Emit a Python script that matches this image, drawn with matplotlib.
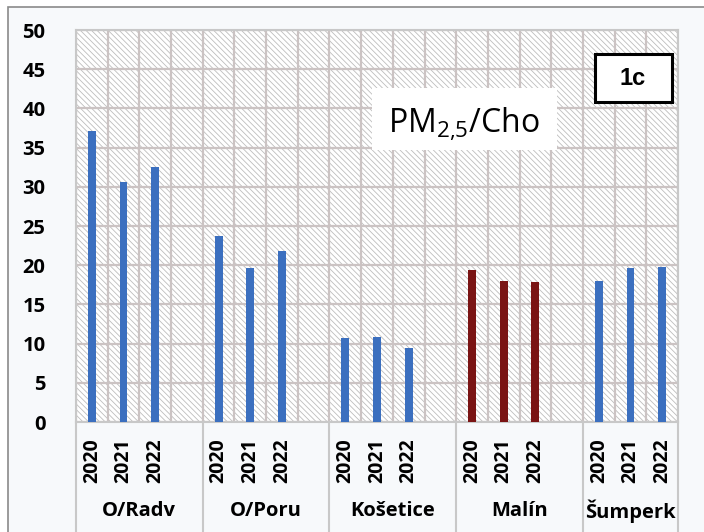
import numpy as np
import matplotlib
matplotlib.use("Agg")
from matplotlib import pyplot as plt
from matplotlib.patches import Rectangle

plt.rcParams['font.family'] = ['Open Sans', 'DejaVu Sans']
plt.rcParams['mathtext.fontset'] = 'custom'
plt.rcParams['mathtext.rm'] = 'Open Sans'
plt.rcParams['hatch.linewidth'] = 0.6

stations = ["O/Radv", "O/Poru", "Košetice", "Malín", "Šumperk"]
years = ["2020", "2021", "2022"]
values = [
    [37.1, 30.6, 32.5],
    [23.7, 19.6, 21.8],
    [10.7, 10.9, 9.4],
    [19.4, 18.0, 17.9],
    [18.0, 19.6, 19.8],
]
colors = ["#3b6fbf", "#3b6fbf", "#3b6fbf", "#7a1414", "#3b6fbf"]

W, H = 704, 532
fig = plt.figure(figsize=(W / 100, H / 100), dpi=100)
fig.patch.set_facecolor("white")
# outer frame
fig.patches.append(Rectangle((8 / W, -0.1), 1.0, 1 - 7 / H + 0.1, transform=fig.transFigure,
                             facecolor="#f7f9fb", edgecolor="#8a8a8a", linewidth=1.2, zorder=-5))

x0, x1, ytop, ybot = 76, 678, 30, 422
ax = fig.add_axes([x0 / W, (H - ybot) / H, (x1 - x0) / W, (ybot - ytop) / H])
ax.set_zorder(2)
ax.set_facecolor("white")
ax.add_patch(Rectangle((0, 0), 1, 1, transform=ax.transAxes, facecolor="white",
                       edgecolor="#bdbdbd", linewidth=0, hatch="\\\\\\\\\\\\", zorder=0))

nslots = 19
ax.set_xlim(-0.5, nslots - 0.5)
ax.set_ylim(0, 50)

pos = 0
group_bounds = [-0.5]
for i, st in enumerate(stations):
    xs = np.arange(pos, pos + len(years))
    ax.bar(xs, values[i], width=0.25, color=colors[i], zorder=3)
    for x, yr in zip(xs, years):
        ax.text(x, -0.041, yr, rotation=90, ha="center", va="top", fontsize=14,
                fontweight="bold", transform=ax.get_xaxis_transform(), clip_on=False)
    pos += len(years) + 1
    right = min(pos - 0.5, nslots - 0.5)
    ax.text((group_bounds[-1] + right) / 2, -0.227, st, ha="center", va="center", fontsize=14.5,
            fontweight="bold", transform=ax.get_xaxis_transform(), clip_on=False)
    group_bounds.append(right)

for gb in group_bounds:
    ax.plot([gb, gb], [0, -0.30], color="#c8c8c8", linewidth=1.5,
            transform=ax.get_xaxis_transform(), clip_on=False)

ax.set_xticks(np.arange(-0.5, nslots, 1))
ax.set_xticklabels([])
ax.set_yticks(np.arange(0, 51, 5))
ax.tick_params(axis="both", length=0)
ax.tick_params(axis="y", pad=22, labelsize=14.5)
for lab in ax.get_yticklabels():
    lab.set_fontweight("bold")
ax.grid(True, color="#cbc3c3", linewidth=1.6, zorder=1)
ax.set_axisbelow(True)
for sp in ax.spines.values():
    sp.set_color("#c8c8c8")
    sp.set_linewidth(1.5)

# title label box
ax.add_patch(Rectangle(((372 - x0) / (x1 - x0), (ybot - 150) / (ybot - ytop)),
                       (557 - 372) / (x1 - x0), 62 / (ybot - ytop), transform=ax.transAxes,
                       facecolor="white", edgecolor="none", zorder=4))
ax.text((464 - x0) / (x1 - x0), (ybot - 124) / (ybot - ytop), r"PM$_{2{,}5}$/Cho",
        transform=ax.transAxes, ha="center", va="center", fontsize=23, zorder=5)

# panel tag
ax.add_patch(Rectangle(((595 - x0) / (x1 - x0), (ybot - 102) / (ybot - ytop)),
                       (672 - 595) / (x1 - x0), 48 / (ybot - ytop), transform=ax.transAxes,
                       facecolor="white", edgecolor="black", linewidth=2.2, zorder=4))
ax.text((633 - x0) / (x1 - x0), (ybot - 78) / (ybot - ytop), "1c", transform=ax.transAxes,
        ha="center", va="center", fontsize=17, fontweight="bold", family="Liberation Sans", zorder=5)

fig.savefig("out.png", dpi=100, facecolor=fig.get_facecolor())
